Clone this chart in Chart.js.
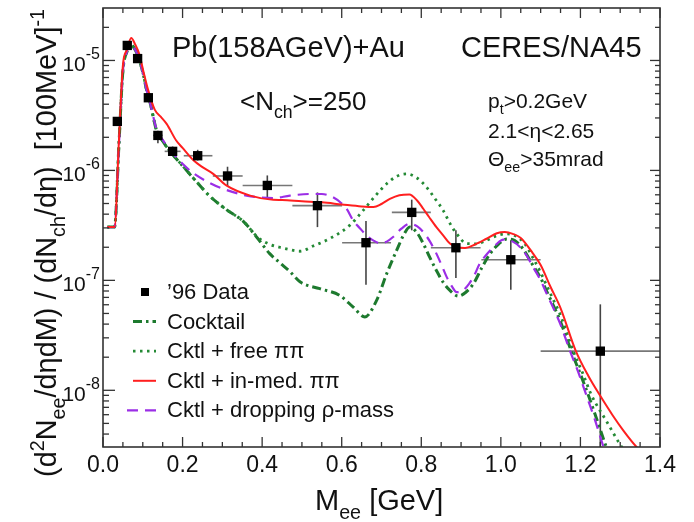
<!DOCTYPE html>
<html>
<head>
<meta charset="utf-8">
<script src="https://cdn.jsdelivr.net/npm/chart.js@4"></script>
<style>
  html, body { margin: 0; padding: 0; background: #fff; }
</style>
</head>
<body>
<canvas id="eeChart" width="694" height="522"></canvas>
<script>
  // '96 data points: mass bin centre, yield, bin edges and error range
  var dataMass   = [0.036, 0.061, 0.087, 0.114, 0.138, 0.175, 0.238, 0.313, 0.413, 0.539, 0.661, 0.776, 0.887, 1.025, 1.25];
  var dataYield  = [2.79e-6, 1.37e-5, 1.04e-5, 4.58e-6, 2.08e-6, 1.49e-6, 1.36e-6, 8.9e-7, 7.3e-7, 4.78e-7, 2.2e-7, 4.15e-7, 1.98e-7, 1.54e-7, 2.27e-8];
  var dataMassLo = [0.028, 0.052, 0.077, 0.104, 0.126, 0.155, 0.203, 0.276, 0.351, 0.476, 0.601, 0.726, 0.824, 0.951, 1.10];
  var dataMassHi = [0.044, 0.070, 0.097, 0.124, 0.150, 0.195, 0.275, 0.351, 0.476, 0.601, 0.724, 0.824, 0.949, 1.10, 1.40];
  var dataYieldLo = [2.55e-6, 1.3e-5, 9.8e-6, 4.3e-6, 1.77e-6, 1.35e-6, 1.23e-6, 7.2e-7, 5.65e-7, 3.05e-7, 9.1e-8, 2.85e-7, 1.05e-7, 8.2e-8, 1e-10];
  var dataYieldHi = [3.05e-6, 1.45e-5, 1.1e-5, 4.9e-6, 2.3e-6, 1.65e-6, 1.54e-6, 1.08e-6, 9.0e-7, 6.3e-7, 3.46e-7, 5.42e-7, 2.85e-7, 2.31e-7, 6.05e-8];

  // Cocktail
  var cocktailMass  = [0.011, 0.029, 0.04, 0.05, 0.06, 0.068, 0.078, 0.087, 0.1, 0.11, 0.12, 0.134, 0.15, 0.168, 0.201, 0.235, 0.268, 0.31, 0.352, 0.386, 0.419, 0.444, 0.47, 0.495, 0.545, 0.595, 0.629, 0.658, 0.688, 0.713, 0.738, 0.756, 0.771, 0.788, 0.805, 0.822, 0.838, 0.855, 0.872, 0.893, 0.912, 0.931, 0.952, 0.973, 0.995, 1.015, 1.035, 1.055, 1.08, 1.1, 1.115, 1.135, 1.149, 1.177, 1.2, 1.22, 1.24, 1.265, 1.28];
  var cocktailYield = [3.05e-7, 3.05e-7, 1.7e-6, 8.0e-6, 1.2e-5, 1.42e-5, 1.3e-5, 1.12e-5, 7.8e-6, 5.3e-6, 3.9e-6, 2.35e-6, 1.85e-6, 1.5e-6, 1.09e-6, 7.9e-7, 5.85e-7, 4.4e-7, 3.46e-7, 2.48e-7, 1.75e-7, 1.45e-7, 1.2e-7, 9.7e-8, 8.4e-8, 7.3e-8, 5.7e-8, 4.65e-8, 6.6e-8, 1.15e-7, 1.87e-7, 2.6e-7, 3.05e-7, 2.75e-7, 2.16e-7, 1.6e-7, 1.23e-7, 9.6e-8, 8.1e-8, 7.2e-8, 7.8e-8, 9.3e-8, 1.3e-7, 1.75e-7, 2.15e-7, 2.38e-7, 2.3e-7, 1.95e-7, 1.38e-7, 1.05e-7, 8.0e-8, 5.6e-8, 4.3e-8, 2.27e-8, 1.4e-8, 9.0e-9, 5.6e-9, 3.05e-9, 2.2e-9];

  // Cktl + free pi pi
  var freeMass  = [0.011, 0.029, 0.04, 0.05, 0.06, 0.068, 0.078, 0.087, 0.1, 0.11, 0.12, 0.134, 0.15, 0.168, 0.201, 0.235, 0.268, 0.31, 0.352, 0.39, 0.42, 0.444, 0.47, 0.495, 0.528, 0.57, 0.62, 0.654, 0.685, 0.713, 0.74, 0.763, 0.788, 0.813, 0.835, 0.855, 0.872, 0.889, 0.914, 0.94, 0.964, 0.99, 1.015, 1.04, 1.06, 1.08, 1.1, 1.115, 1.135, 1.149, 1.182, 1.205, 1.228, 1.266, 1.3, 1.32];
  var freeYield = [3.05e-7, 3.05e-7, 1.7e-6, 8.0e-6, 1.2e-5, 1.42e-5, 1.3e-5, 1.12e-5, 7.8e-6, 5.3e-6, 3.9e-6, 2.35e-6, 1.85e-6, 1.5e-6, 1.09e-6, 7.9e-7, 5.85e-7, 4.4e-7, 3.46e-7, 2.45e-7, 2.12e-7, 2.0e-7, 1.9e-7, 1.84e-7, 2.05e-7, 2.4e-7, 3.16e-7, 4.33e-7, 5.9e-7, 7.57e-7, 8.9e-7, 9.3e-7, 8.6e-7, 7.05e-7, 5.5e-7, 4.33e-7, 3.3e-7, 2.65e-7, 2.16e-7, 2.15e-7, 2.31e-7, 2.55e-7, 2.65e-7, 2.5e-7, 2.15e-7, 1.62e-7, 1.18e-7, 9.0e-8, 6.3e-8, 4.9e-8, 2.27e-8, 1.45e-8, 9.0e-9, 5.2e-9, 3.2e-9, 2.5e-9];

  // Cktl + in-medium pi pi
  var inMedMass  = [0.011, 0.029, 0.04, 0.05, 0.06, 0.071, 0.08, 0.092, 0.1, 0.113, 0.13, 0.145, 0.16, 0.184, 0.2, 0.226, 0.25, 0.277, 0.31, 0.37, 0.428, 0.45, 0.5, 0.55, 0.6, 0.65, 0.68, 0.7, 0.721, 0.745, 0.77, 0.79, 0.805, 0.82, 0.838, 0.855, 0.872, 0.89, 0.91, 0.935, 0.964, 0.99, 1.01, 1.03, 1.05, 1.08, 1.1, 1.125, 1.15, 1.188, 1.22, 1.249, 1.28, 1.308, 1.341, 1.36];
  var inMedYield = [3.05e-7, 3.05e-7, 1.85e-6, 9.0e-6, 1.25e-5, 1.6e-5, 1.42e-5, 1.12e-5, 8.4e-6, 5.46e-6, 3.57e-6, 3.08e-6, 2.65e-6, 1.87e-6, 1.6e-6, 1.25e-6, 1.07e-6, 9.3e-7, 7.3e-7, 5.9e-7, 5.4e-7, 5.38e-7, 5.23e-7, 5.12e-7, 4.9e-7, 4.7e-7, 4.64e-7, 4.95e-7, 5.5e-7, 5.95e-7, 6.05e-7, 5.3e-7, 4.48e-7, 3.75e-7, 3.05e-7, 2.57e-7, 2.16e-7, 2.0e-7, 1.97e-7, 2.12e-7, 2.39e-7, 2.68e-7, 2.75e-7, 2.65e-7, 2.43e-7, 1.77e-7, 1.38e-7, 8.7e-8, 5.6e-8, 2.3e-8, 1.35e-8, 9.0e-9, 6.0e-9, 4.3e-9, 3.05e-9, 2.6e-9];

  // Cktl + dropping rho-mass
  var dropMass  = [0.011, 0.029, 0.04, 0.05, 0.06, 0.068, 0.078, 0.087, 0.1, 0.11, 0.12, 0.134, 0.15, 0.168, 0.2, 0.226, 0.268, 0.302, 0.361, 0.428, 0.47, 0.52, 0.55, 0.578, 0.6, 0.612, 0.629, 0.645, 0.662, 0.68, 0.696, 0.713, 0.729, 0.75, 0.771, 0.79, 0.805, 0.822, 0.838, 0.852, 0.864, 0.877, 0.889, 0.905, 0.92, 0.931, 0.947, 0.96, 0.973, 0.988, 1.006, 1.03, 1.048, 1.065, 1.081, 1.1, 1.115, 1.135, 1.149, 1.174, 1.195, 1.215, 1.235, 1.258, 1.27];
  var dropYield = [3.05e-7, 3.05e-7, 1.7e-6, 8.0e-6, 1.2e-5, 1.42e-5, 1.3e-5, 1.12e-5, 7.8e-6, 5.3e-6, 3.9e-6, 2.4e-6, 1.9e-6, 1.54e-6, 1.15e-6, 9.5e-7, 7.7e-7, 6.8e-7, 5.9e-7, 5.6e-7, 5.9e-7, 6.1e-7, 6.1e-7, 5.7e-7, 5.0e-7, 4.5e-7, 3.5e-7, 3.0e-7, 2.57e-7, 2.3e-7, 2.18e-7, 2.25e-7, 2.48e-7, 2.95e-7, 3.27e-7, 3.1e-7, 2.75e-7, 2.25e-7, 1.75e-7, 1.35e-7, 1.07e-7, 8.8e-8, 7.8e-8, 8.1e-8, 9.3e-8, 1.07e-7, 1.42e-7, 1.65e-7, 1.87e-7, 2.12e-7, 2.35e-7, 2.25e-7, 2.01e-7, 1.68e-7, 1.32e-7, 1.0e-7, 7.6e-8, 5.3e-8, 4.04e-8, 2.27e-8, 1.45e-8, 9.0e-9, 5.6e-9, 3.05e-9, 2.3e-9];

  // axis ticks
  var massTicks = [0, 0.2, 0.4, 0.6, 0.8, 1.0, 1.2, 1.4];
  var yieldDecades = [-8, -7, -6, -5];

  var FONT = '"Liberation Sans", Arial, Helvetica, sans-serif';

  function pts(xs, ys) {
    return xs.map(function (x, i) { return { x: x, y: ys[i] }; });
  }

  // text with sub/superscripts: parts = [[text, mode]], mode '' | 'sub' | 'sup'
  function partSize(size, mode) { return mode ? size * 0.68 : size; }
  function richWidth(ctx, parts, size) {
    var w = 0;
    parts.forEach(function (p) {
      ctx.font = partSize(size, p[1]) + 'px ' + FONT;
      w += ctx.measureText(p[0]).width;
    });
    return w;
  }
  function drawRich(ctx, parts, x, y, size) {
    var cx = x;
    parts.forEach(function (p) {
      var s = partSize(size, p[1]);
      var dy = p[1] === 'sub' ? size * 0.3 : (p[1] === 'sup' ? -size * 0.42 : 0);
      ctx.font = s + 'px ' + FONT;
      ctx.fillText(p[0], cx, y + dy);
      cx += ctx.measureText(p[0]).width;
    });
    return cx;
  }

  // horizontal and vertical error bars under the data squares
  var errorBars = {
    id: 'errorBars',
    beforeDatasetsDraw: function (chart) {
      var ctx = chart.ctx, xs = chart.scales.x, ys = chart.scales.y, a = chart.chartArea;
      ctx.save();
      ctx.beginPath();
      ctx.rect(a.left, a.top, a.right - a.left, a.bottom - a.top);
      ctx.clip();
      ctx.lineWidth = 1.6;
      for (var i = 0; i < dataMass.length; i++) {
        var px = xs.getPixelForValue(dataMass[i]);
        var py = ys.getPixelForValue(dataYield[i]);
        ctx.strokeStyle = '#777';
        ctx.beginPath();
        ctx.moveTo(xs.getPixelForValue(dataMassLo[i]), py);
        ctx.lineTo(xs.getPixelForValue(dataMassHi[i]), py);
        ctx.stroke();
        ctx.strokeStyle = '#444';
        ctx.beginPath();
        ctx.moveTo(px, ys.getPixelForValue(dataYieldHi[i]));
        ctx.lineTo(px, Math.min(ys.getPixelForValue(dataYieldLo[i]), a.bottom + 5));
        ctx.stroke();
      }
      ctx.restore();
    }
  };

  // frame with inward ticks on all four sides, tick labels and axis titles
  var frameAxes = {
    id: 'frameAxes',
    afterDatasetsDraw: function (chart) {
      var ctx = chart.ctx, xs = chart.scales.x, ys = chart.scales.y, a = chart.chartArea;
      function seg(x1, y1, x2, y2) { ctx.beginPath(); ctx.moveTo(x1, y1); ctx.lineTo(x2, y2); ctx.stroke(); }
      ctx.save();
      ctx.strokeStyle = '#333';
      ctx.lineWidth = 1.6;
      ctx.strokeRect(a.left, a.top, a.right - a.left, a.bottom - a.top);
      ctx.lineWidth = 1.3;
      for (var i = 0; i <= 28; i++) {
        var px = xs.getPixelForValue(i * 0.05);
        var len = (i % 4 === 0) ? 10 : 5;
        seg(px, a.bottom, px, a.bottom - len);
        seg(px, a.top, px, a.top + len);
      }
      for (var d = -9; d <= -5; d++) {
        for (var m = 1; m <= 9; m++) {
          var v = m * Math.pow(10, d);
          if (v < ys.min || v > ys.max) continue;
          var py = ys.getPixelForValue(v);
          var l = m === 1 ? 12 : 6;
          seg(a.left, py, a.left + l, py);
          seg(a.right, py, a.right - (m === 1 ? 10 : 5), py);
        }
      }
      ctx.fillStyle = '#111';
      ctx.textBaseline = 'alphabetic';
      // x tick labels
      ctx.font = '23px ' + FONT;
      ctx.textAlign = 'center';
      massTicks.forEach(function (t) {
        ctx.fillText(t.toFixed(1), xs.getPixelForValue(t), 472);
      });
      // y tick labels 10^n
      ctx.textAlign = 'left';
      yieldDecades.forEach(function (d) {
        var py = ys.getPixelForValue(Math.pow(10, d));
        ctx.font = '16px ' + FONT;
        var sw = ctx.measureText('-' + (-d)).width;
        ctx.font = '21px ' + FONT;
        var bw = ctx.measureText('10').width;
        var right = a.left - 3;
        ctx.fillText('10', right - sw - bw, py + 11);
        ctx.font = '16px ' + FONT;
        ctx.fillText('-' + (-d), right - sw, py - 1);
      });
      // x title
      drawRich(ctx, [['M', ''], ['ee', 'sub'], [' [GeV]', '']], 315, 510, 29);
      // y title, rotated
      var yParts = [['(d', ''], ['2', 'sup'], ['N', ''], ['ee', 'sub'], ['/d\u03b7dM) / (dN', ''], ['ch', 'sub'], ['/d\u03b7)  [100MeV]', ''], ['-1', 'sup']];
      var ys0 = 28;
      var w = richWidth(ctx, yParts, ys0);
      var size = ys0 * 468 / w;
      w = richWidth(ctx, yParts, size);
      ctx.save();
      ctx.translate(56, 243);
      ctx.rotate(-Math.PI / 2);
      drawRich(ctx, yParts, -w / 2, 0, size);
      ctx.restore();
      ctx.restore();
    }
  };

  // labels and legend inside the frame
  var notes = {
    id: 'notes',
    afterDraw: function (chart) {
      var ctx = chart.ctx;
      ctx.save();
      ctx.fillStyle = '#111';
      ctx.textAlign = 'left';
      ctx.textBaseline = 'alphabetic';
      drawRich(ctx, [['Pb(158AGeV)+Au', '']], 172, 57, 29);
      drawRich(ctx, [['CERES/NA45', '']], 461, 57, 29);
      drawRich(ctx, [['<N', ''], ['ch', 'sub'], ['>=250', '']], 240, 110, 26);
      drawRich(ctx, [['p', ''], ['t', 'sub'], ['>0.2GeV', '']], 488, 108, 21);
      drawRich(ctx, [['2.1<\u03b7<2.65', '']], 488, 138, 21);
      drawRich(ctx, [['\u0398', ''], ['ee', 'sub'], ['>35mrad', '']], 488, 166, 21);

      // legend built from the datasets
      var rowY = 292, rowStep = 29.6;
      chart.data.datasets.forEach(function (ds, i) {
        var cy = rowY + i * rowStep;
        if (ds.showLine === false) {
          ctx.fillStyle = '#000';
          ctx.fillRect(141, cy - 4, 8, 8);
        } else {
          ctx.strokeStyle = ds.borderColor;
          ctx.lineWidth = ds.borderWidth;
          ctx.setLineDash(ds.borderDash || []);
          ctx.beginPath();
          ctx.moveTo(ds.legendStart, cy);
          ctx.lineTo(156, cy);
          ctx.stroke();
          ctx.setLineDash([]);
        }
        ctx.fillStyle = '#111';
        ctx.font = '22px ' + FONT;
        ctx.textBaseline = 'middle';
        ctx.fillText(ds.label, 167, cy + 1);
      });
      ctx.restore();
    }
  };

  var ctx = document.getElementById('eeChart').getContext('2d');
  var eeChart = new Chart(ctx, {
    type: 'line',
    data: {
      datasets: [
        {
          label: '\u201996 Data',
          data: pts(dataMass, dataYield),
          showLine: false,
          pointStyle: 'rect',
          pointRadius: 6.6,
          backgroundColor: '#000',
          borderColor: '#000',
          borderWidth: 0,
          order: 0
        },
        {
          label: 'Cocktail',
          data: pts(cocktailMass, cocktailYield),
          borderColor: '#1d7a2e',
          borderWidth: 3,
          borderDash: [9, 4, 2.5, 4],
          legendStart: 133,
          pointRadius: 0,
          cubicInterpolationMode: 'monotone',
          order: 4
        },
        {
          label: 'Cktl + free \u03c0\u03c0',
          data: pts(freeMass, freeYield),
          borderColor: '#248a35',
          borderWidth: 2.8,
          borderDash: [2.5, 4.5],
          legendStart: 133,
          pointRadius: 0,
          cubicInterpolationMode: 'monotone',
          order: 3
        },
        {
          label: 'Cktl + in-med. \u03c0\u03c0',
          data: pts(inMedMass, inMedYield),
          borderColor: '#ff1f1f',
          borderWidth: 2,
          legendStart: 133,
          pointRadius: 0,
          cubicInterpolationMode: 'monotone',
          order: 1
        },
        {
          label: 'Cktl + dropping \u03c1-mass',
          data: pts(dropMass, dropYield),
          borderColor: '#9b2ee6',
          borderWidth: 2.2,
          borderDash: [11, 7],
          legendStart: 127,
          pointRadius: 0,
          cubicInterpolationMode: 'monotone',
          order: 2
        }
      ]
    },
    options: {
      responsive: false,
      animation: false,
      devicePixelRatio: 1,
      layout: { padding: { left: 103, top: 8, right: 34, bottom: 75 } },
      scales: {
        x: { type: 'linear', min: 0, max: 1.4, display: false },
        y: { type: 'logarithmic', min: 3.05e-9, max: 3.0e-5, display: false }
      },
      plugins: {
        legend: { display: false },
        tooltip: { enabled: false }
      }
    },
    plugins: [errorBars, frameAxes, notes]
  });
</script>
</body>
</html>
